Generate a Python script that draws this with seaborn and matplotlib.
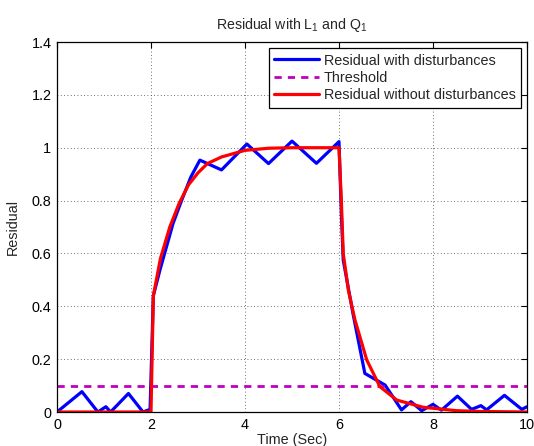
import numpy as np
import pandas as pd
import matplotlib
matplotlib.use("Agg")
import matplotlib.pyplot as plt
import seaborn as sns

sns.set_style("white")
plt.rcParams['font.family'] = ['Liberation Sans', 'DejaVu Sans']
plt.rcParams['mathtext.fontset'] = 'custom'
plt.rcParams['mathtext.rm'] = 'Liberation Sans'
plt.rcParams['mathtext.it'] = 'Liberation Sans'

# Residual with disturbances (blue)
t_dist = [0.0, 0.53, 0.87, 1.04, 1.14, 1.52, 1.83, 1.98, 2.05, 2.19, 2.47, 2.65, 2.85, 3.04,
          3.5, 4.04, 4.5, 5.0, 5.52, 6.0, 6.05, 6.09, 6.3, 6.55, 6.98, 7.1, 7.33, 7.53,
          7.76, 8.0, 8.18, 8.52, 8.82, 9.02, 9.14, 9.52, 9.89, 10.0]
r_dist = [0.0, 0.077, 0.0, 0.02, 0.0, 0.07, 0.0, 0.01, 0.44, 0.537, 0.714, 0.80, 0.89, 0.953,
          0.916, 1.014, 0.94, 1.025, 0.941, 1.023, 0.75, 0.575, 0.37, 0.146, 0.102, 0.07, 0.008, 0.039,
          0.005, 0.029, 0.007, 0.06, 0.01, 0.024, 0.008, 0.063, 0.01, 0.02]

# Threshold
t_thr = [0.0, 10.0]
r_thr = [0.1, 0.1]

# Residual without disturbances (red)
t_nom = [0.0, 2.0, 2.05, 2.2, 2.4, 2.6, 2.8, 3.0, 3.2, 3.5, 4.0, 4.5, 5.0, 6.0,
         6.05, 6.09, 6.2, 6.34, 6.59, 6.87, 7.23, 7.79, 8.5, 9.0, 10.0]
r_nom = [0.0, 0.0, 0.44, 0.58, 0.70, 0.79, 0.86, 0.905, 0.94, 0.965, 0.99, 0.998, 1.0, 1.0,
         0.80, 0.60, 0.46, 0.348, 0.197, 0.096, 0.045, 0.018, 0.005, 0.002, 0.0]

x_ticks = [0, 2, 4, 6, 8, 10]
y_ticks = [0, 0.2, 0.4, 0.6, 0.8, 1.0, 1.2, 1.4]
y_ticklabels = ["0", "0.2", "0.4", "0.6", "0.8", "1", "1.2", "1.4"]

fig = plt.figure(figsize=(5.34, 4.46), dpi=100)
ax = fig.add_axes([57/534, 34/446, 470/534, 370/446])

df1 = pd.DataFrame({"t": t_dist, "r": r_dist})
df2 = pd.DataFrame({"t": t_thr, "r": r_thr})
df3 = pd.DataFrame({"t": t_nom, "r": r_nom})

sns.lineplot(data=df1, x="t", y="r", ax=ax, color="#0000ff", lw=2.3, sort=False,
             estimator=None, label="Residual with disturbances")
sns.lineplot(data=df2, x="t", y="r", ax=ax, color="#bf00bf", lw=2.0, sort=False,
             estimator=None, label="Threshold", dashes=False)
ax.lines[-1].set_linestyle((0, (2.6, 2.2)))
sns.lineplot(data=df3, x="t", y="r", ax=ax, color="#ff0000", lw=2.3, sort=False,
             estimator=None, label="Residual without disturbances")
for ln in ax.lines:
    ln.set_solid_joinstyle("round")
    ln.set_solid_capstyle("round")

ax.set_xlim(0, 10)
ax.set_ylim(0, 1.4)
ax.set_xticks(x_ticks)
ax.set_xticklabels([str(v) for v in x_ticks])
ax.set_yticks(y_ticks)
ax.set_yticklabels(y_ticklabels)
ax.grid(True, linestyle=(0, (1, 3)), color="#444444", lw=0.6)
ax.tick_params(direction="in", top=True, right=True, length=4, width=0.8,
               labelsize=10.4, colors="black", pad=4)
for s in ax.spines.values():
    s.set_color("black")
    s.set_linewidth(0.9)
    s.set_visible(True)

ax.set_title(r"Residual with L$_1$ and Q$_1$", fontsize=10.2, pad=9)
ax.set_xlabel("Time (Sec)", fontsize=10.4, labelpad=1)
ax.set_ylabel("Residual", fontsize=10.4, labelpad=8)

leg = ax.legend(loc="upper right", fontsize=10.4, frameon=True, fancybox=False,
                edgecolor="black", borderpad=0.4, labelspacing=0.22,
                handlelength=3.05, handletextpad=0.35, borderaxespad=0.4)
leg.get_frame().set_linewidth(0.9)
leg.get_frame().set_alpha(1)

fig.savefig("out.png", dpi=100)
